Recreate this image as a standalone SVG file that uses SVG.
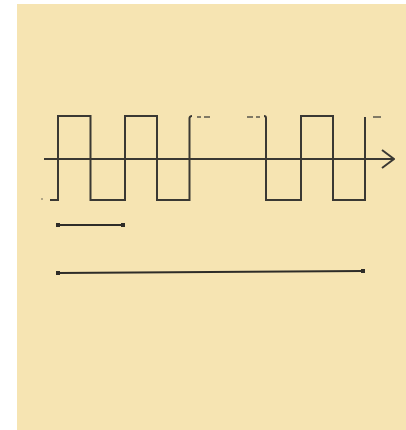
<svg xmlns="http://www.w3.org/2000/svg" width="406" height="430" viewBox="0 0 406 430">
<style>
.w{fill:none;stroke:#3a3833;stroke-width:2;stroke-linejoin:miter}
.d{fill:none;stroke:#5a564c;stroke-width:1.5}
.b{fill:none;stroke:#2e2c28;stroke-width:2.2}
.e{fill:#2e2c28}
</style>
<defs>
<marker id="arr" markerWidth="14" markerHeight="20" refX="13" refY="10" orient="auto" markerUnits="userSpaceOnUse">
<path d="M1,1 L13,10 L1,19" fill="none" stroke="#3a3833" stroke-width="2"/>
</marker>
</defs>
<rect x="0" y="0" width="406" height="430" fill="#ffffff"/>
<rect x="17" y="4" width="389" height="426" fill="#f6e4b2"/>
<g id="axis">
<line x1="44" y1="159" x2="394" y2="159" class="w" marker-end="url(#arr)"/>
</g>
<g id="wave">
<path class="w" d="M50,200 H58 V116 H90.5 V200 H125 V116 H157 V200 H189.5 V118 Q190,116 192,116"/>
<path class="w" d="M264,116 Q266,116 266,118 V200 H301 V116 H333 V200 H365 V117"/>
<circle cx="42" cy="199" r="0.8" fill="#5a564c"/>
<path class="d" d="M197,117 H201 M204,117 H210 M247,117 H253 M256,117 H260 M373,117 H381"/>
</g>
<g id="bars">
<line x1="58" y1="225" x2="123" y2="225" class="b"/>
<rect x="56" y="223" width="4" height="4" class="e"/>
<rect x="121" y="223" width="4" height="4" class="e"/>
<line x1="58" y1="273" x2="363" y2="271" class="b"/>
<rect x="56" y="271" width="4" height="4" class="e"/>
<rect x="361" y="269" width="4" height="4" class="e"/>
</g>
</svg>
